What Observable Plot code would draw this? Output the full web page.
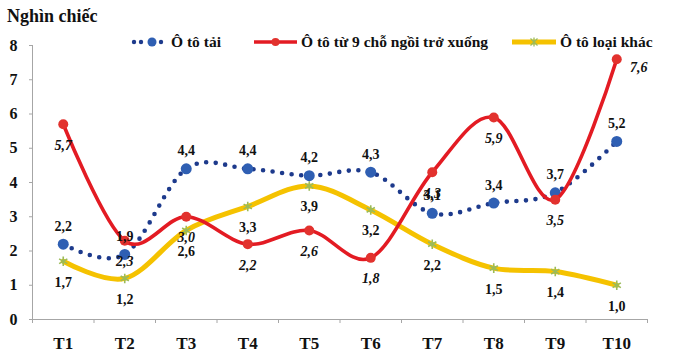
<!DOCTYPE html>
<html>
<head>
<meta charset="utf-8">
<script src="https://cdn.jsdelivr.net/npm/d3@7"></script>
<script src="https://cdn.jsdelivr.net/npm/@observablehq/plot@0.6"></script>
<style>
  html, body { margin: 0; padding: 0; background: #fff; }
  #wrap { position: relative; width: 675px; height: 359px; font-family: "Liberation Serif", "Times New Roman", serif; }
  #chart { position: absolute; left: 0; top: 0; }
  .title { position: absolute; left: 7px; top: 5px; font-size: 18px; font-weight: bold; color: #111; line-height: 22px; white-space: nowrap; }
  .leg { position: absolute; top: 33px; height: 18px; display: flex; align-items: center; font-size: 15.5px; font-weight: bold; color: #111; white-space: nowrap; }
  .leg svg { display: block; margin-right: 4px; }
</style>
</head>
<body>
<div id="wrap">
  <div id="chart"></div>
  <div class="title">Nghìn chiếc</div>
  <div id="legend"></div>
</div>
<script>
const months = ["T1","T2","T3","T4","T5","T6","T7","T8","T9","T10"];
const otoTai   = [2.2, 1.9, 4.4, 4.4, 4.2, 4.3, 3.1, 3.4, 3.7, 5.2];
const oto9Cho  = [5.7, 2.3, 3.0, 2.2, 2.6, 1.8, 4.3, 5.9, 3.5, 7.6];
const otoKhac  = [1.7, 1.2, 2.6, 3.3, 3.9, 3.2, 2.2, 1.5, 1.4, 1.0];
const yTicks = [0, 1, 2, 3, 4, 5, 6, 7, 8];
const seriesNames = ["Ô tô tải", "Ô tô từ 9 chỗ ngồi trở xuống", "Ô tô loại khác"];

const rows = months.map((m, i) => ({i: i + 1, m, tai: otoTai[i], cho9: oto9Cho[i], khac: otoKhac[i]}));
const fmt = v => v.toFixed(1).replace(".", ",");
const boundaries = d3.range(0.5, months.length + 1, 1);

const BLUE_DOT = "#1d3a8c", BLUE_M = "#2f5fb3";
const RED = "#e31b23", RED_M = "#e2322e";
const YEL = "#f5c200", YEL_M = "#9bbb59";
const GRAY = "#a6a6a6";
const font = {fontFamily: "'Liberation Serif', 'Times New Roman', serif", fontWeight: "bold"};

const chart = Plot.plot({
  width: 675,
  height: 359,
  marginLeft: 32,
  marginRight: 28,
  marginTop: 45,
  marginBottom: 40,
  x: {type: "linear", domain: [0.5, months.length + 0.5]},
  y: {domain: [0, 8]},
  style: {background: "transparent", color: "#111"},
  marks: [
    Plot.ruleX([0.5], {stroke: GRAY, strokeWidth: 1}),
    Plot.ruleY([0], {stroke: GRAY, strokeWidth: 1}),
    Plot.axisY({ticks: yTicks, tickSize: 3, tickPadding: 12, stroke: GRAY, fill: "#111", fontSize: 16, label: null, ...font}),
    Plot.axisX({ticks: boundaries, tickSize: 4, stroke: GRAY, fill: "none", label: null, tickFormat: () => ""}),
    Plot.axisX({ticks: rows.map(d => d.i), tickSize: 0, tickPadding: 17, fill: "#111", fontSize: 17, label: null, tickFormat: d => months[d - 1], ...font}),

    // Ô tô loại khác
    Plot.line(rows, {x: "i", y: "khac", stroke: YEL, strokeWidth: 5, curve: "cardinal"}),
    Plot.dot(rows, {x: "i", y: "khac", symbol: "asterisk", r: 4.5, stroke: YEL_M, strokeWidth: 1.6}),

    // Ô tô tải
    Plot.line(rows, {x: "i", y: "tai", stroke: BLUE_DOT, strokeWidth: 4.6, strokeDasharray: "0 9.6", strokeLinecap: "round", curve: "cardinal"}),
    Plot.dot(rows, {x: "i", y: "tai", r: 5.5, fill: BLUE_M, stroke: "none"}),

    // Ô tô từ 9 chỗ ngồi trở xuống
    Plot.line(rows, {x: "i", y: "cho9", stroke: RED, strokeWidth: 3.6, curve: "cardinal"}),
    Plot.dot(rows, {x: "i", y: "cho9", r: 5, fill: RED_M, stroke: "none"}),

    // labels
    Plot.text(rows, {x: "i", y: "tai", text: d => fmt(d.tai), dy: -18, fontSize: 14, fill: "#111", ...font}),
    Plot.text(rows, {x: "i", y: "khac", text: d => fmt(d.khac), dy: 21, fontSize: 14, fill: "#111", ...font}),
    Plot.text(rows.slice(0, -1), {x: "i", y: "cho9", text: d => fmt(d.cho9), dy: 21, fontSize: 14, fontStyle: "italic", fill: "#111", ...font}),
    Plot.text(rows.slice(-1), {x: "i", y: "cho9", text: d => fmt(d.cho9), dx: 22, dy: 8, fontSize: 14, fontStyle: "italic", fill: "#111", ...font})
  ]
});
document.getElementById("chart").appendChild(chart);

// Legend
const legend = document.getElementById("legend");
function addLegend(left, swatchW, name, drawSwatch) {
  const div = document.createElement("div");
  div.className = "leg";
  div.style.left = left + "px";
  const svg = d3.create("svg").attr("width", swatchW).attr("height", 14);
  drawSwatch(svg, swatchW);
  div.appendChild(svg.node());
  const span = document.createElement("span");
  span.textContent = name;
  div.appendChild(span);
  legend.appendChild(div);
}
addLegend(131, 36, seriesNames[0], (s, w) => {
  [3, 10, 30].forEach(cx => s.append("circle").attr("cx", cx).attr("cy", 7).attr("r", 2.2).attr("fill", BLUE_DOT));
  s.append("circle").attr("cx", 21).attr("cy", 7).attr("r", 4.5).attr("fill", BLUE_M);
});
addLegend(254, 43, seriesNames[1], (s, w) => {
  s.append("line").attr("x1", 0).attr("x2", w).attr("y1", 7).attr("y2", 7).attr("stroke", RED).attr("stroke-width", 3.5);
  s.append("circle").attr("cx", w / 2).attr("cy", 7).attr("r", 4).attr("fill", RED_M);
});
addLegend(512, 44, seriesNames[2], (s, w) => {
  s.append("line").attr("x1", 0).attr("x2", w).attr("y1", 7).attr("y2", 7).attr("stroke", YEL).attr("stroke-width", 5);
  const c = w / 2;
  s.append("path").attr("d", `M${c-3.5},3.5L${c+3.5},10.5M${c-3.5},10.5L${c+3.5},3.5M${c},2.5L${c},11.5`).attr("stroke", YEL_M).attr("stroke-width", 1.3);
});
</script>
</body>
</html>
